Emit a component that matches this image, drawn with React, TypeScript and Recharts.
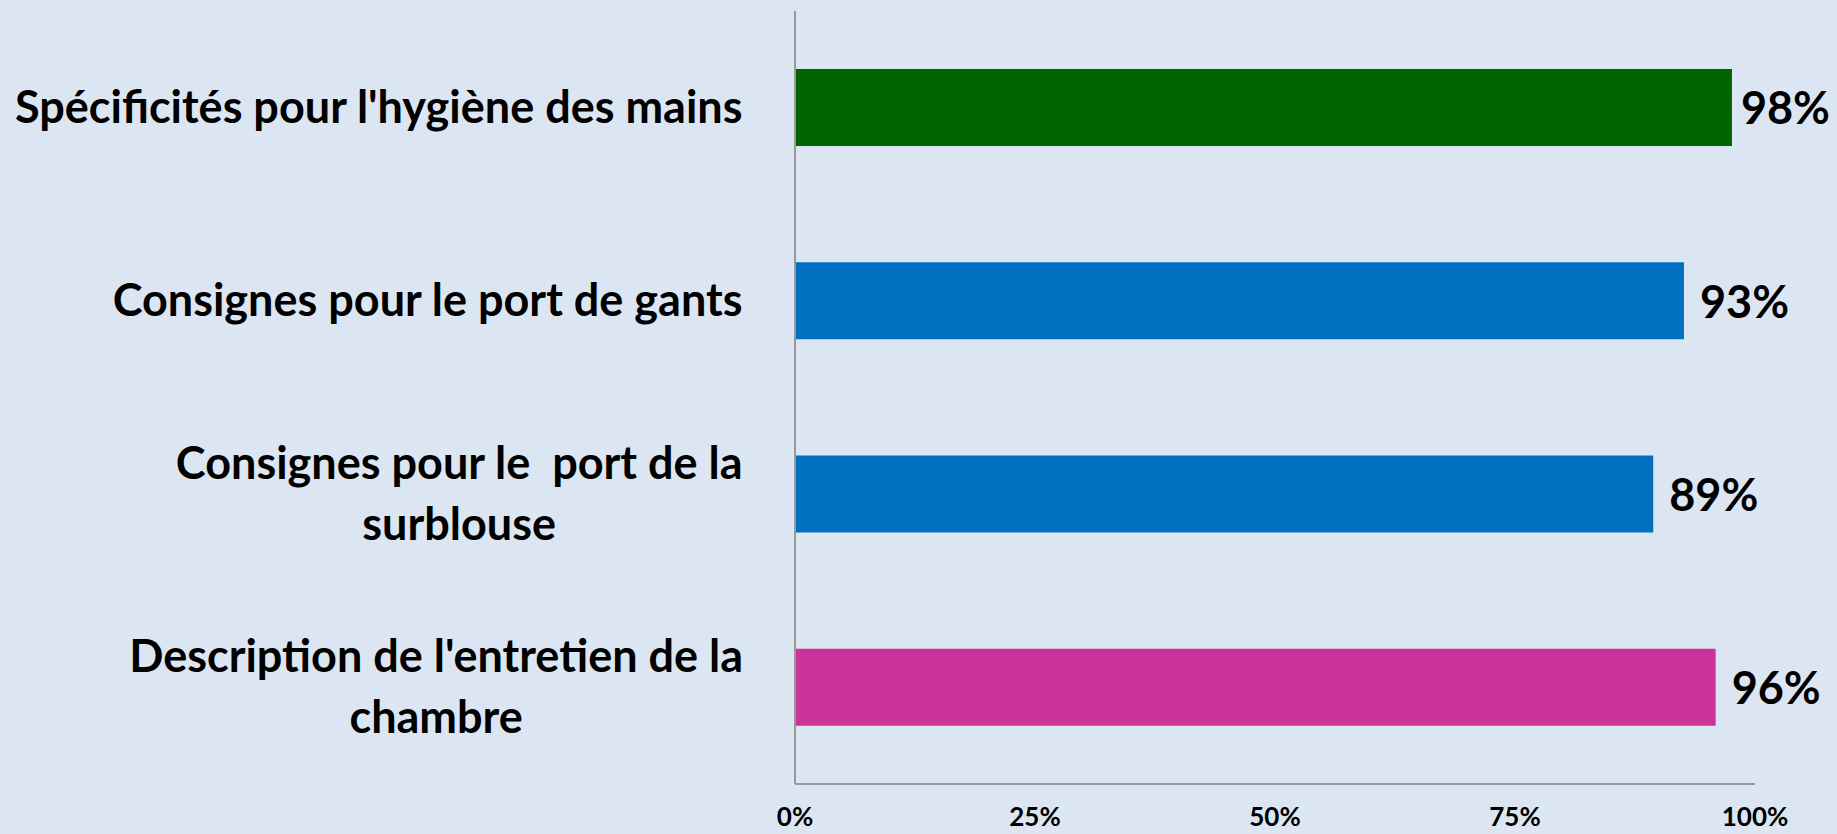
import { BarChart, Bar, XAxis, YAxis, Cell, LabelList } from 'recharts';

const categories = [
  "Spécificités pour l'hygiène des mains",
  'Consignes pour le port de gants',
  'Consignes pour le  port de la\nsurblouse',
  "Description de l'entretien de la\nchambre",
];
const values = [97.6, 92.6, 89.4, 95.9];
const barColors = ['#006400', '#0070c0', '#0070c0', '#cc3399'];
const xTicks = [0, 25, 50, 75, 100];

const data = categories.map((name, i) => ({ name, value: values[i] }));

const FONT = 'Lato, "Open Sans", sans-serif';
const W = 1837;
const H = 834;

let ctx: CanvasRenderingContext2D | null = null;
const measure = (text: string, font: string) => {
  if (!ctx) ctx = document.createElement('canvas').getContext('2d');
  if (!ctx) return text.length * 20;
  ctx.font = font;
  return ctx.measureText(text).width;
};

const CategoryTick = ({ x, y, payload }: any) => {
  const lines = String(payload.value).split('\n');
  const font = `bold 45px ${FONT}`;
  const maxW = Math.max(...lines.map((l) => measure(l, font)));
  const right = x - 52;
  const cx = right - maxW / 2;
  const lh = 61;
  const first = y - ((lines.length - 1) * lh) / 2 + 15;
  return (
    <g>
      {lines.map((l, i) => (
        <text
          key={i}
          x={cx}
          y={first + i * lh}
          textAnchor="middle"
          fontFamily={FONT}
          fontWeight="bold"
          fontSize={45}
          fill="#000"
          style={{ whiteSpace: 'pre' }}
        >
          {l}
        </text>
      ))}
    </g>
  );
};

const PercentTick = ({ x, y, payload }: any) => (
  <text x={x} y={y + 42} textAnchor="middle" fontFamily={FONT} fontWeight="bold" fontSize={26} fill="#000">
    {payload.value}%
  </text>
);

const ValueLabel = ({ x, y, width, height, value }: any) => {
  const text = `${Math.round(value)}%`;
  const font = `bold 45px ${FONT}`;
  const tw = measure(text, font);
  const lx = Math.min(x + width + 16, W - 7 - tw);
  return (
    <text x={lx} y={y + height / 2 + 17} fontFamily={FONT} fontWeight="bold" fontSize={45} fill="#000">
      {text}
    </text>
  );
};

export default function App() {
  return (
    <div style={{ position: 'absolute', left: 0, top: 0, width: W, height: H, background: '#dce6f2' }}>
      <BarChart
        width={W}
        height={H}
        data={data}
        layout="vertical"
        margin={{ top: 11, right: 82, bottom: 0, left: 0 }}
        barCategoryGap="30%"
      >
        <XAxis
          type="number"
          domain={[0, 100]}
          ticks={xTicks}
          height={50}
          tickLine={false}
          tickSize={0}
          tickMargin={0}
          axisLine={{ stroke: '#999', strokeWidth: 2 }}
          tick={<PercentTick />}
          interval={0}
        />
        <YAxis
          type="category"
          dataKey="name"
          width={795}
          tickLine={false}
          tickSize={0}
          tickMargin={0}
          axisLine={{ stroke: '#999', strokeWidth: 2 }}
          tick={<CategoryTick />}
          interval={0}
        />
        <Bar dataKey="value" isAnimationActive={false}>
          {data.map((d, i) => (
            <Cell key={d.name} fill={barColors[i]} />
          ))}
          <LabelList dataKey="value" content={<ValueLabel />} />
        </Bar>
      </BarChart>
    </div>
  );
}
